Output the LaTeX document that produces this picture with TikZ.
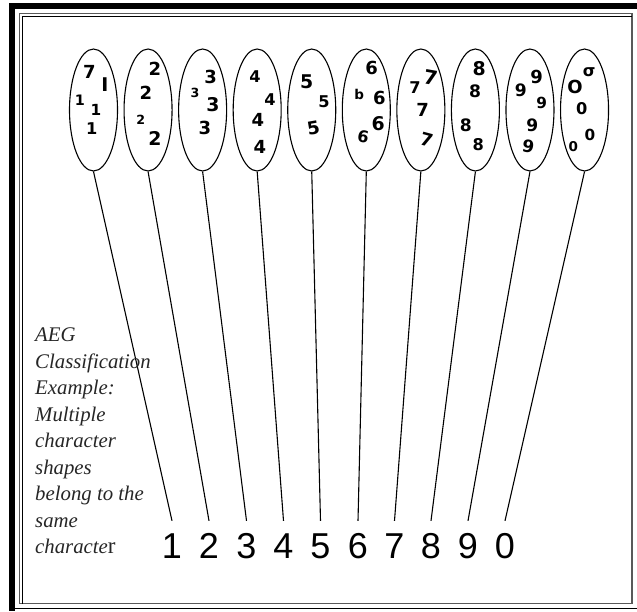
\documentclass[tikz,border=0pt]{standalone}
\usepackage{fontspec}
\setmainfont{Liberation Serif}
\newfontfamily\labfont{Liberation Sans}
\newfontfamily\handfont{DejaVu Sans}
\usetikzlibrary{shapes.geometric}
\begin{document}
\begin{tikzpicture}[x=1pt,y=-1pt,
  ell/.style={draw, ellipse, line width=1.1pt, minimum width=48pt, minimum height=122pt, inner sep=0pt},
  hw/.style={font=\handfont\bfseries\fontsize{18}{18}\selectfont, inner sep=0pt},
  lab/.style={font=\labfont\fontsize{36}{36}\selectfont, anchor=base, inner xsep=0pt, inner ysep=12pt, text height=25pt, text depth=0pt},
  stem/.style={line width=1.1pt},
  note/.style={font=\itshape\fontsize{20.8}{26.5}\selectfont, text=black!85, align=left, inner sep=0pt, anchor=north west}
]
\useasboundingbox (0,0) rectangle (637,611);
% frame
\fill[black] (9,3) rectangle (637,9);
\fill[black] (9,3) rectangle (15,611);
\draw[black!65, line width=1.6pt] (19.5,13.5) rectangle (632,603.5);
\draw[black, line width=1pt] (22,604) -- (22,16) -- (632,16);
\draw[black, line width=1pt] (15,608) -- (637,608);
% ellipses
\foreach \i [count=\n from 0] in {1,...,10} {
  \node[ell] (e\i) at ({93.5+54.56*\n},110) {};
}
% labels
\foreach \i/\x/\t in {1/172/1,2/209/2,3/246.5/3,4/283.5/4,5/320.5/5,6/358/6,7/394.5/7,8/431/8,9/468/9,10/505/0} {
  \node[lab] (d\i) at (\x,558) {\t};
  \draw[stem] (e\i.south) -- (d\i.north);
}
% handwritten digits
\foreach \x/\y/\t/\s/\r [count=\n] in {
  89.3/71.7/7/1/0, 105/85/I/1.05/0, 80/100/1/0.8/0, 96/110/1/0.85/0, 91.7/128.3/1/0.9/0,
  155/69.3/2/1/0, 146/93.3/2/1/0, 140.7/120/2/0.7/0, 155/138/2/1.05/0,
  210.7/76.7/3/1/0, 195/93/3/0.7/0, 213/105/3/1.05/0, 205/128/3/1/0,
  255/77/4/0.9/0, 270/100/4/0.9/0, 258/120/4/1/0, 260/147/4/1/0,
  306.7/81.7/5/1.05/0, 324/101.7/5/0.9/0, 313.3/128.3/5/1/10,
  371.7/68.3/6/1/0, 359.3/94.3/b/0.75/0, 379.3/98.3/6/1/0, 378.3/123.3/6/1.05/0, 363.3/136.7/6/0.9/-10,
  415/88/7/0.9/0, 430.7/78/7/1.1/-10, 422.7/110/7/1/0, 426.7/140/7/1/-15,
  479.3/68.3/8/1.05/0, 475/91.7/8/0.95/0, 465.7/125/8/0.95/0, 478.3/145/8/0.9/0,
  520.7/90/9/0.95/0, 536.7/76.7/9/1/0, 541.7/103.3/9/0.85/0, 532.3/125/9/0.95/0, 528.3/146.7/9/0.95/-10,
  589.3/71.7/σ/0.9/0, 575/86.7/O/1/0, 581.7/108.3/0/0.9/0, 573.3/146.7/0/0.75/0, 590/135/0/0.85/0} {
  \node[hw, scale=\s, rotate=\r] (h\n) at (\x,\y) {\t};
}
% note text
\node[note] (txt) at (35,328) {AEG\\Classification\\Example:\\Multiple\\character\\shapes\\belong to the\\same\\characte{\upshape\fontsize{23}{26.5}\selectfont r}};
\end{tikzpicture}
\end{document}
